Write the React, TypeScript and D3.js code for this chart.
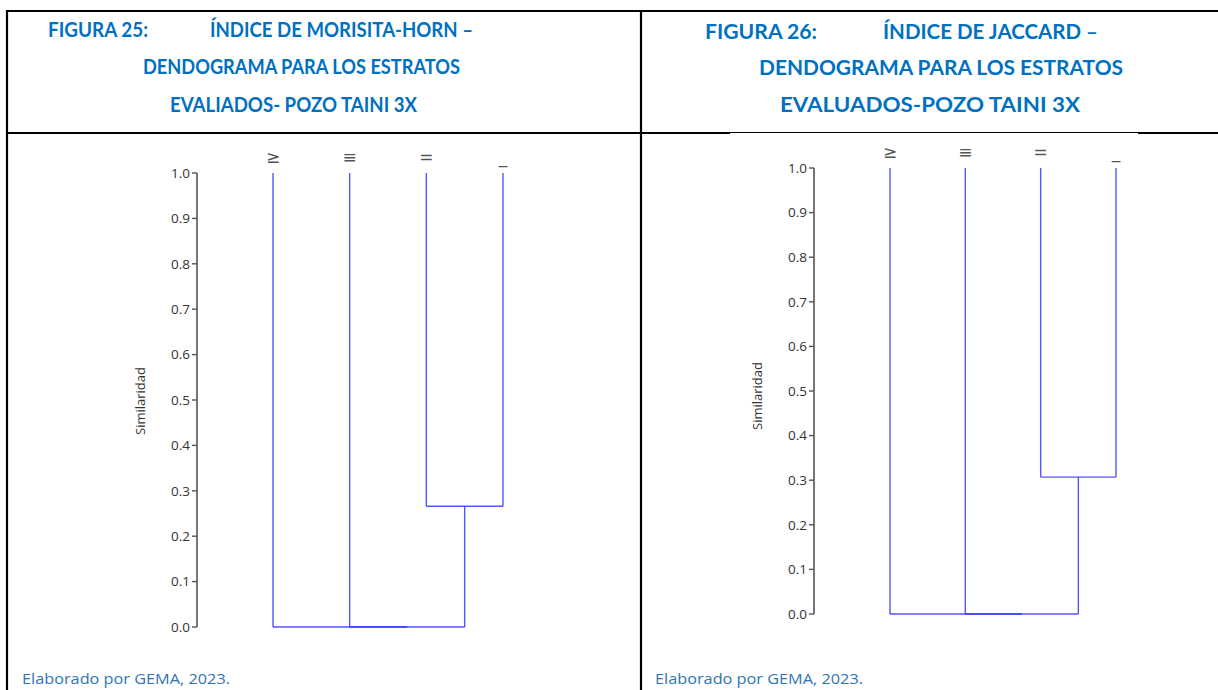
import React from "react";
import * as d3 from "d3";

// ---- data ----
const leafLabels = ["≥", "≡", "=", "_"];
const yTicks = [0, 0.1, 0.2, 0.3, 0.4, 0.5, 0.6, 0.7, 0.8, 0.9, 1.0];
// merges: [childA, childB, similarity]; leaves are 0..3, merges become 4,5,6
const morisitaMerges: [number, number, number][] = [
  [2, 3, 0.266],
  [1, 4, 0.0],
  [0, 5, 0.0],
];
const jaccardMerges: [number, number, number][] = [
  [2, 3, 0.307],
  [1, 4, 0.0],
  [0, 5, 0.0],
];
const titles1 = ["FIGURA 25:", "ÍNDICE DE MORISITA-HORN –", "DENDOGRAMA PARA LOS ESTRATOS", "EVALIADOS- POZO TAINI 3X"];
const titles2 = ["FIGURA 26:", "ÍNDICE DE JACCARD –", "DENDOGRAMA PARA LOS ESTRATOS", "EVALUADOS-POZO TAINI 3X"];
const footer = "Elaborado por GEMA, 2023.";
const yLabel = "Similaridad";

const BLUE = "#0070C0";
const LINE = "#2a2aff";

interface PanelProps {
  merges: [number, number, number][];
  axisX: number;
  yTop: number;
  yBottom: number;
  leafX0: number;
  leafX1: number;
  labelX: number;
  labelY: number;
}

function Dendro({ merges, axisX, yTop, yBottom, leafX0, leafX1, labelX, labelY }: PanelProps) {
  const y = d3.scaleLinear().domain([0, 1]).range([yBottom, yTop]);
  const x = d3.scalePoint<number>().domain(leafLabels.map((_, i) => i)).range([leafX0, leafX1]);
  const nodeX: number[] = leafLabels.map((_, i) => x(i) as number);
  const nodeH: number[] = leafLabels.map(() => 1);
  const segs: { x1: number; y1: number; x2: number; y2: number }[] = [];
  merges.forEach(([a, b, h]) => {
    const xa = nodeX[a], xb = nodeX[b];
    segs.push({ x1: xa, y1: y(nodeH[a]), x2: xa, y2: y(h) });
    segs.push({ x1: xb, y1: y(nodeH[b]), x2: xb, y2: y(h) });
    segs.push({ x1: xa, y1: y(h), x2: xb, y2: y(h) });
    nodeX.push((xa + xb) / 2);
    nodeH.push(h);
  });
  const fmt = d3.format(".1f");
  return (
    <g>
      <line x1={axisX} x2={axisX} y1={y(1)} y2={y(0)} stroke="#555" strokeWidth={1.6} />
      {yTicks.map((t) => (
        <g key={t}>
          <line x1={axisX - 5} x2={axisX} y1={y(t)} y2={y(t)} stroke="#555" strokeWidth={1.4} />
          <text x={axisX - 7} y={y(t)} dy="0.35em" textAnchor="end" fontFamily="Open Sans" fontSize={13.5} fill="#333">
            {fmt(t)}
          </text>
        </g>
      ))}
      <text
        transform={`translate(${labelX},${labelY}) rotate(-90)`}
        textAnchor="middle"
        dy="0.35em"
        fontFamily="Open Sans"
        fontSize={13}
        fill="#333"
      >
        {yLabel}
      </text>
      {leafLabels.map((l, i) => (
        <text key={i} x={x(i)} y={y(1) - 10} textAnchor="middle" fontFamily="DejaVu Sans" fontSize={17} fill="#555">
          {l}
        </text>
      ))}
      {segs.map((s, i) => (
        <line key={i} x1={s.x1} y1={s.y1} x2={s.x2} y2={s.y2} stroke={LINE} strokeWidth={1.4} strokeOpacity={0.8} />
      ))}
    </g>
  );
}

function Title({ lines, pos }: { lines: string[]; pos: { x: number; y: number; w: number }[] }) {
  return (
    <g>
      {lines.map((t, i) => (
        <text
          key={i}
          x={pos[i].x}
          y={pos[i].y}
          textLength={pos[i].w}
          lengthAdjust="spacingAndGlyphs"
          fontFamily="Lato"
          fontWeight={700}
          fontSize={21}
          fill={BLUE}
        >
          {t}
        </text>
      ))}
    </g>
  );
}

export default function App() {
  return (
    <svg
      width={1218}
      height={690}
      style={{ position: "absolute", left: 0, top: 0, background: "#fff" }}
    >
      <rect x={0} y={0} width={1218} height={690} fill="#fff" />
      {/* table borders */}
      <line x1={7} x2={1218} y1={11} y2={11} stroke="#000" strokeWidth={2.2} />
      <line x1={7} x2={7} y1={10} y2={690} stroke="#000" strokeWidth={2.2} />
      <line x1={641} x2={641} y1={10} y2={690} stroke="#000" strokeWidth={2.2} />
      <line x1={6} x2={641} y1={133} y2={133} stroke="#000" strokeWidth={2.2} />
      <line x1={641} x2={730} y1={133} y2={133} stroke="#000" strokeWidth={2.2} />
      <line x1={730} x2={1138} y1={132.5} y2={132.5} stroke="#000" strokeWidth={1} />
      <line x1={1138} x2={1218} y1={133} y2={133} stroke="#000" strokeWidth={2.2} />

      <Title
        lines={titles1}
        pos={[
          { x: 48, y: 37, w: 100 },
          { x: 210, y: 37, w: 263 },
          { x: 143, y: 74, w: 317 },
          { x: 170, y: 112, w: 247 },
        ]}
      />
      <Title
        lines={titles2}
        pos={[
          { x: 705, y: 39, w: 112 },
          { x: 883, y: 39, w: 215 },
          { x: 759, y: 75, w: 364 },
          { x: 780, y: 112, w: 300 },
        ]}
      />

      <Dendro merges={morisitaMerges} axisX={197} yTop={173} yBottom={627} leafX0={273} leafX1={503} labelX={140} labelY={401} />
      <Dendro merges={jaccardMerges} axisX={814} yTop={168} yBottom={614} leafX0={890} leafX1={1116} labelX={757} labelY={396} />

      <text x={22} y={684} textLength={208} lengthAdjust="spacingAndGlyphs" fontFamily="Open Sans" fontSize={14} fill="#2E75B6">
        {footer}
      </text>
      <text x={655} y={684} textLength={208} lengthAdjust="spacingAndGlyphs" fontFamily="Open Sans" fontSize={14} fill="#2E75B6">
        {footer}
      </text>
    </svg>
  );
}
